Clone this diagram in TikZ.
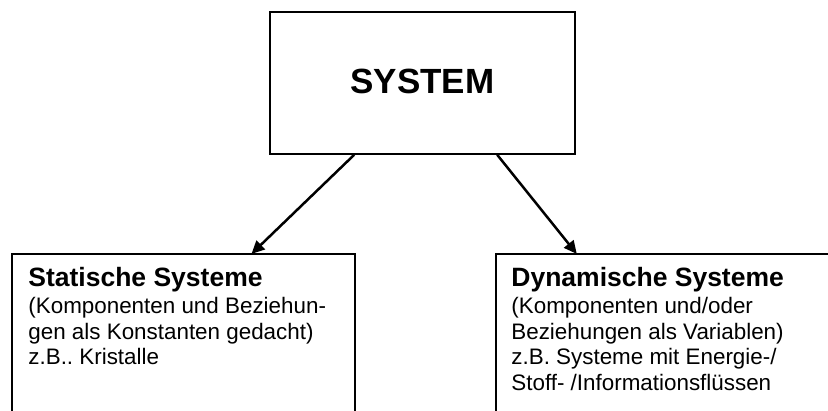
\documentclass[tikz,border=0pt]{standalone}
\usepackage{fontspec}
\setmainfont{Liberation Sans}
\usetikzlibrary{arrows.meta,calc}
\frenchspacing
\tikzset{
  box/.style={draw, line width=1.6pt, inner sep=0pt},
  txt/.style={inner sep=0pt, align=left, font=\fontsize{22.4}{25.5}\selectfont\frenchspacing},
  arr/.style={line width=2.5pt, -{Triangle[length=13pt,width=12pt]}, shorten >=-1pt},
}
\newcommand{\ttl}{\fontsize{26.5}{25.5}\selectfont\bfseries}
\begin{document}
\begin{tikzpicture}[x=1pt,y=1pt]
\useasboundingbox (0,0) rectangle (828,411);
\clip (0,0) rectangle (828,411);
% SYSTEM box: x 270..575, y(top-down) 12..154
\node[box, minimum width=305pt, minimum height=142pt] (sys) at (422.5,328) {};
\node[inner sep=0pt, font=\fontsize{35}{40}\selectfont\bfseries] (systxt) at (422.5,330) {SYSTEM};
% left box: x 12..355, top 254
\node[box, minimum width=343pt, minimum height=220pt] (lbox) at (183.5,47) {};
% right box: x 496..920, top 254
\node[box, minimum width=424pt, minimum height=220pt] (rbox) at (708,47) {};
\node[txt, anchor=north west] (ltxt) at ($(lbox.north west)+(17,-13.5)$)
  {{\ttl Statische Systeme}\\[2pt](Komponenten und Beziehun-\\gen als Konstanten gedacht)\\z.B.. Kristalle};
\node[txt, anchor=north west] (rtxt) at ($(rbox.north west)+(16,-13.5)$)
  {{\ttl Dynamische Systeme}\\[2pt](Komponenten und/oder\\Beziehungen als Variablen)\\z.B. Systeme mit Energie-/\\Stoff- /Informationsflüssen};
\coordinate (a1) at ($(sys.south west)+(85,0)$);
\coordinate (b1) at ($(lbox.north west)+(241,0)$);
\coordinate (a2) at ($(sys.south west)+(228,0)$);
\coordinate (b2) at ($(rbox.north west)+(81,0)$);
\draw[arr] (a1) -- (b1);
\draw[arr] (a2) -- (b2);
\end{tikzpicture}
\end{document}
